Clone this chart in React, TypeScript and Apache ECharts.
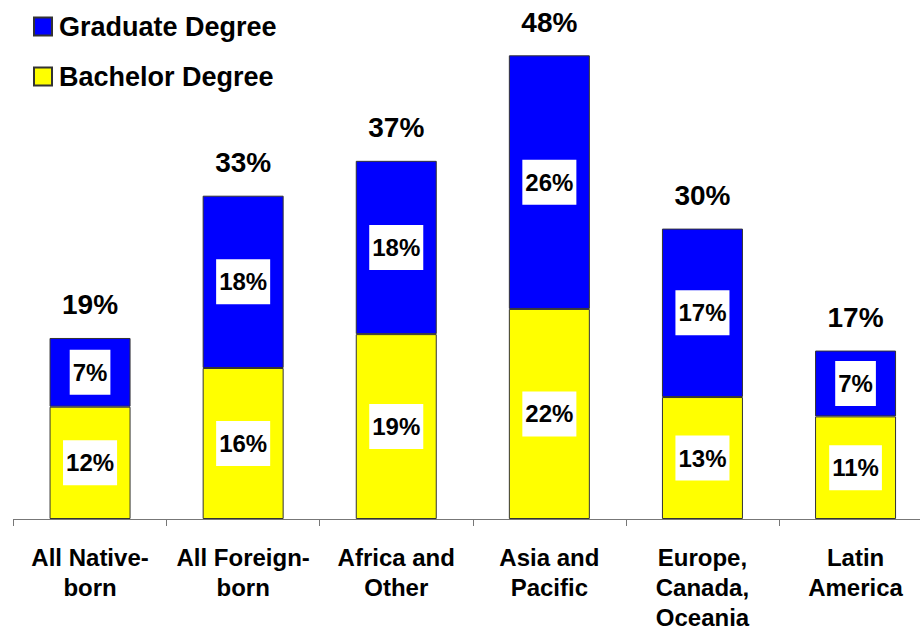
import React, { useEffect, useRef } from "react";
import * as echarts from "echarts";

const categories = [
  "All Native-\nborn",
  "All Foreign-\nborn",
  "Africa and\nOther",
  "Asia and\nPacific",
  "Europe,\nCanada,\nOceania",
  "Latin\nAmerica",
];
const bachelor = [11.6, 15.6, 19.1, 21.7, 12.6, 10.6];
const graduate = [7.1, 17.8, 17.9, 26.2, 17.4, 6.8];
const totals = bachelor.map((b, i) => b + graduate[i]);

const FONT = "'Liberation Sans', Arial, sans-serif";

export default function App() {
  const ref = useRef<HTMLDivElement>(null);
  useEffect(() => {
    if (!ref.current) return;
    const chart = echarts.init(ref.current, undefined, { renderer: "svg" });
    const innerLabel = {
      show: true,
      position: "inside",
      formatter: (p: any) => Math.round(p.value) + "%",
      backgroundColor: "#ffffff",
      padding: [10, 3],
      fontSize: 24,
      lineHeight: 25,
      fontWeight: "bold",
      fontFamily: FONT,
      color: "#000",
    };
    chart.setOption({
      animation: false,
      textStyle: { fontFamily: FONT },
      legend: {
        orient: "vertical",
        left: 28,
        top: 8,
        itemWidth: 18,
        itemHeight: 18,
        itemGap: 23,
        icon: "rect",
        data: ["Graduate Degree", "Bachelor Degree"],
        textStyle: {
          fontSize: 27,
          fontWeight: "bold",
          fontFamily: FONT,
          color: "#000",
          padding: [0, 0, 0, 2],
        },
      },
      grid: {
        left: 13.5,
        width: 918.6,
        top: 35,
        bottom: 112,
        containLabel: false,
        outerBoundsMode: "none",
      },
      xAxis: {
        type: "category",
        data: categories,
        axisLine: { show: true, lineStyle: { color: "#777", width: 1 } },
        axisTick: { show: true, length: 7, lineStyle: { color: "#777", width: 1 } },
        axisLabel: {
          interval: 0,
          margin: 23,
          fontSize: 24,
          lineHeight: 30,
          fontWeight: "bold",
          fontFamily: FONT,
          color: "#000",
        },
      },
      yAxis: { type: "value", show: false, min: 0, max: 50 },
      series: [
        {
          name: "Bachelor Degree",
          type: "bar",
          stack: "total",
          barWidth: 81,
          data: bachelor,
          itemStyle: { color: "#FFFF00", borderColor: "#333", borderWidth: 1 },
          label: innerLabel,
        },
        {
          name: "Graduate Degree",
          type: "bar",
          stack: "total",
          barWidth: 81,
          data: graduate,
          itemStyle: { color: "#0000FF", borderColor: "#333", borderWidth: 1 },
          label: innerLabel,
        },
        {
          name: "Total",
          type: "bar",
          stack: "total",
          barWidth: 81,
          data: totals.map(() => 0),
          itemStyle: { color: "transparent", borderWidth: 0 },
          label: {
            show: true,
            position: "top",
            distance: 19,
            formatter: (p: any) => Math.round(totals[p.dataIndex]) + "%",
            fontSize: 28,
            fontWeight: "bold",
            fontFamily: FONT,
            color: "#000",
          },
          silent: true,
        },
      ],
    });
    return () => chart.dispose();
  }, []);
  return (
    <div
      ref={ref}
      style={{ position: "absolute", left: 0, top: 0, width: 920, height: 631, background: "#fff" }}
    />
  );
}
